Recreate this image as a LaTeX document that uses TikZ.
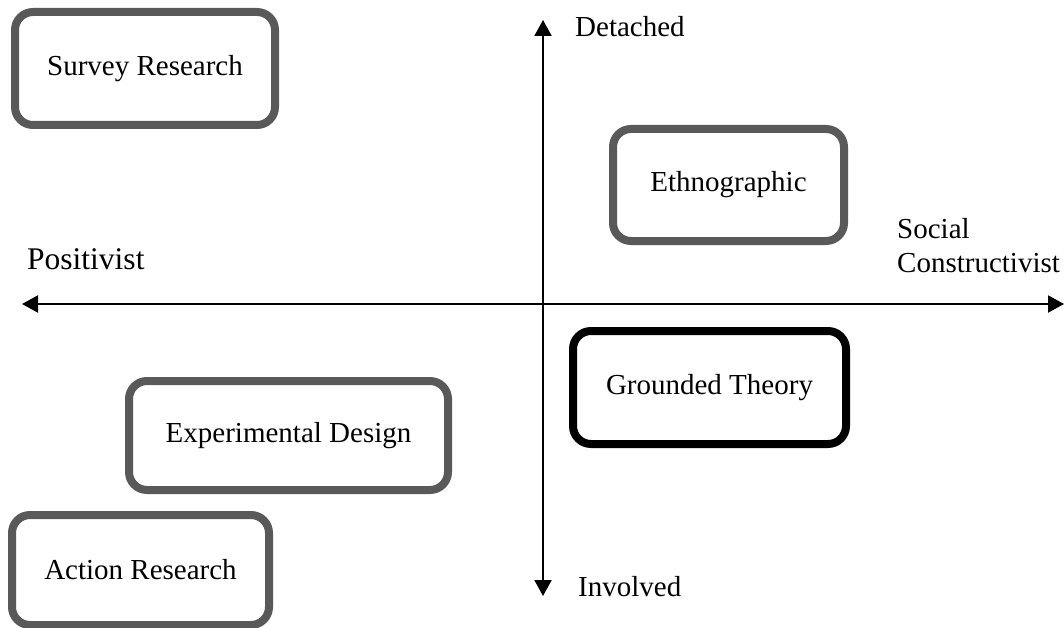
\documentclass[tikz,border=0pt]{standalone}
\usepackage{fontspec}
\setmainfont{Liberation Serif}
\usetikzlibrary{arrows.meta}
\definecolor{boxgray}{HTML}{595959}
\begin{document}
\begin{tikzpicture}[x=1pt,y=1pt,
  method/.style={draw=boxgray, line width=8pt, rounded corners=18pt,
    fill=white, align=center, inner sep=0pt,
    font=\fontsize{29}{34}\selectfont},
  axis/.style={line width=2pt, {Triangle[length=16pt,width=17pt]}-{Triangle[length=16pt,width=17pt]}},
  axislabel/.style={inner sep=0pt, font=\fontsize{29}{34}\selectfont}]
  \useasboundingbox (0,0) rectangle (1064,-628);

  % axes
  \coordinate (top) at (543,-20);
  \coordinate (bottom) at (543,-596);
  \coordinate (left) at (22,-304);
  \coordinate (right) at (1064,-304);
  \draw[axis] (bottom) -- (top);
  \draw[axis] (left) -- (right);

  % axis labels
  \node[axislabel, anchor=base west] (detached) at (575,-37) {Detached};
  \node[axislabel, anchor=base west] (involved) at (578,-596) {Involved};
  \node[axislabel, anchor=base west, font=\fontsize{31.5}{36}\selectfont] (positivist) at (27,-269) {Positivist};
  \node[axislabel, anchor=base west] (social) at (897,-238) {Social};
  \node[axislabel, anchor=base west] (constructivist) at (897,-272) {Constructivist};

  % research methods
  \node[method, minimum width=260pt, minimum height=113pt] (survey) at (145,-68.5) {Survey Research};
  \node[method, minimum width=231pt, minimum height=112pt] (ethno) at (728.5,-185) {Ethnographic};
  \node[method, draw=black, minimum width=273pt, minimum height=113pt] (grounded) at (709.5,-387.5) {Grounded Theory};
  \node[method, minimum width=319pt, minimum height=109pt] (experimental) at (288.5,-435.5) {Experimental Design};
  \node[method, minimum width=257pt, minimum height=110pt] (action) at (140.5,-570) {Action Research};
\end{tikzpicture}
\end{document}
